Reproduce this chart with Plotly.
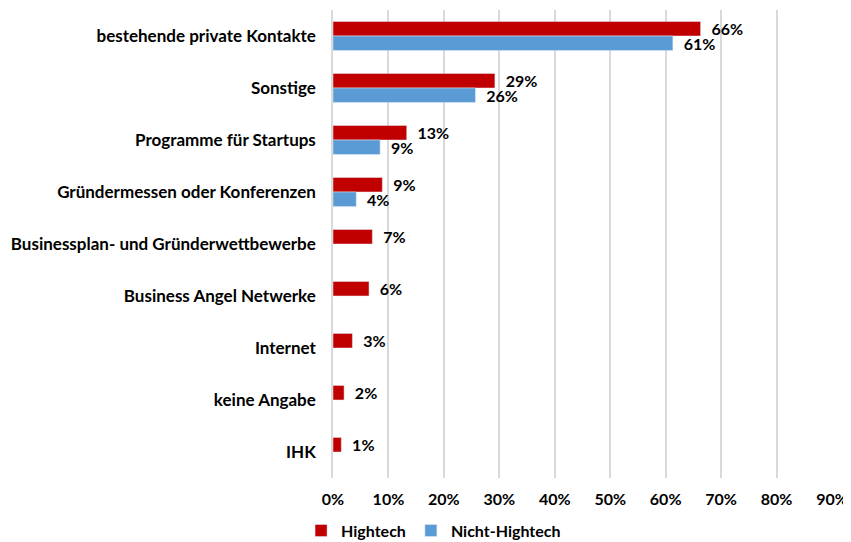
import plotly.graph_objects as go

categories = ["bestehende private Kontakte", "Sonstige", "Programme für Startups",
              "Gründermessen oder Konferenzen", "Businessplan- und Gründerwettbewerbe",
              "Business Angel Netwerke", "Internet", "keine Angabe", "IHK"]
hightech = [0.663, 0.292, 0.133, 0.089, 0.071, 0.065, 0.035, 0.020, 0.015]
hightech_labels = ["66%", "29%", "13%", "9%", "7%", "6%", "3%", "2%", "1%"]
nicht_hightech = [0.613, 0.257, 0.085, 0.042, None, None, None, None, None]
nicht_labels = ["61%", "26%", "9%", "4%", "", "", "", "", ""]
x_ticks = [0, 0.1, 0.2, 0.3, 0.4, 0.5, 0.6, 0.7, 0.8, 0.9]

FONT = "Lato, 'Open Sans', sans-serif"
pad = "\u00a0\u00a0"

fig = go.Figure()
fig.add_trace(go.Bar(
    y=categories, x=hightech, orientation="h", name="Hightech",
    marker=dict(color="#C00000"),
    text=[pad + t for t in hightech_labels], textposition="outside",
    constraintext="none",
    textfont=dict(family=FONT, size=16, color="black", weight="bold"),
    cliponaxis=False,
))
fig.add_trace(go.Bar(
    y=categories, x=nicht_hightech, orientation="h", name="Nicht-Hightech",
    marker=dict(color="#5B9BD5"),
    text=[pad + t if t else "" for t in nicht_labels], textposition="outside",
    constraintext="none",
    textfont=dict(family=FONT, size=16, color="black", weight="bold"),
    cliponaxis=False,
))

fig.update_layout(
    width=843, height=534,
    margin=dict(l=325, r=19, t=2, b=64, autoexpand=False),
    paper_bgcolor="white", plot_bgcolor="white",
    barmode="group", bargap=0.44, bargroupgap=0,
    font=dict(family=FONT, size=16, color="black", weight="bold"),
    legend=dict(orientation="h", x=-0.064, xanchor="left", y=-0.076, yanchor="top",
                font=dict(family=FONT, size=16, color="black", weight="bold"),
                traceorder="normal"),
)
fig.update_xaxes(
    range=[0, 0.9], tickvals=x_ticks, tickformat=".0%",
    showgrid=True, gridcolor="#D9D9D9", gridwidth=1.5,
    zeroline=False, showline=False, ticks="", ticklabelstandoff=10,
    automargin=False,
    tickfont=dict(family=FONT, size=16, color="black", weight="bold"),
)
fig.update_yaxes(
    autorange="reversed", showgrid=False, zeroline=False,
    showline=True, linecolor="#D9D9D9", linewidth=1.5,
    ticks="", ticklabelstandoff=12, automargin=False,
    tickfont=dict(family=FONT, size=17, color="black", weight="bold"),
)
fig.write_html("out.html")
